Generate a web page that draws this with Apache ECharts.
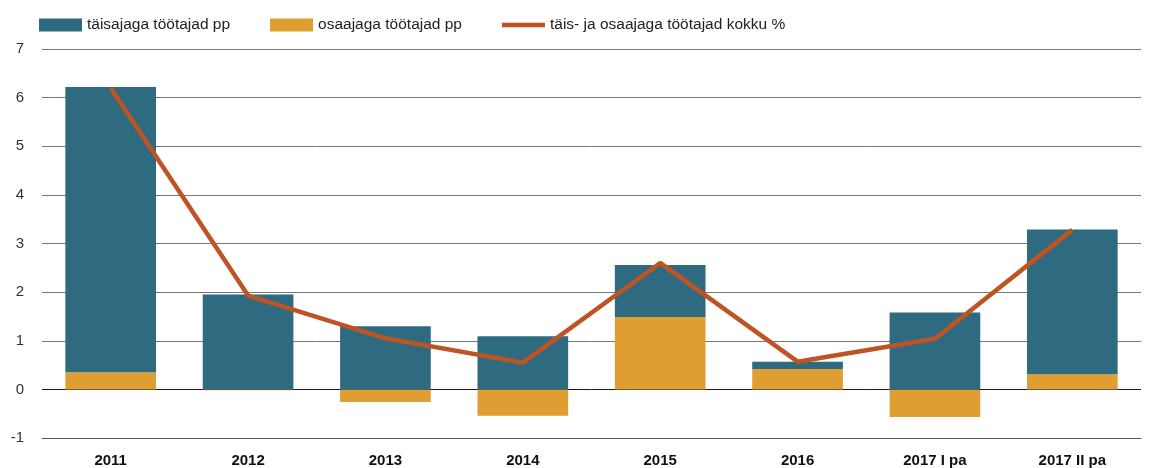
<!DOCTYPE html>
<html>
<head>
<meta charset="utf-8">
<script src="https://cdn.jsdelivr.net/npm/echarts@6/dist/echarts.min.js"></script>
<style>
  html, body { margin: 0; padding: 0; background: #fff; }
  #chart { width: 1149px; height: 468px; }
</style>
</head>
<body>
<div id="chart"></div>
<script>
const categories = ['2011', '2012', '2013', '2014', '2015', '2016', '2017 I pa', '2017 II pa']
// täisajaga (full-time) contribution, pp
const fullTime = [5.87, 1.95, 1.30, 1.09, 1.07, 0.15, 1.58, 2.98]
// osaajaga (part-time) contribution, pp
const partTime = [0.35, -0.02, -0.26, -0.54, 1.49, 0.42, -0.57, 0.31]
// total change, %
const total = [6.2, 1.93, 1.05, 0.55, 2.6, 0.57, 1.04, 3.28]

const names = ['täisajaga töötajad pp', 'osaajaga töötajad pp', 'täis- ja osaajaga töötajad kokku %']
const colors = { full: '#2f6b80', part: '#df9e31', line: '#bf5423' }
const font = 'Liberation Sans, Arial, sans-serif'

const chart = echarts.init(document.getElementById('chart'))
chart.setOption({
    animation: false,
    textStyle: { fontFamily: font },
    grid: { left: 42, right: 8, top: 49, bottom: 30 },
    legend: {
        left: 34,
        top: 12,
        itemWidth: 43,
        itemHeight: 13,
        itemGap: 40,
        textStyle: { fontSize: 15.5, color: '#222', fontFamily: font },
        data: [
            { name: names[0], icon: 'rect' },
            { name: names[1], icon: 'rect' },
            { name: names[2], icon: 'path://M0,0 H40 V4 H0 Z' }
        ]
    },
    xAxis: {
        type: 'category',
        data: categories,
        position: 'bottom',
        axisLine: { onZero: false, lineStyle: { color: '#555', width: 1 } },
        axisTick: { inside: true, length: 5, lineStyle: { color: '#333' } },
        axisLabel: { fontSize: 15, fontWeight: 'bold', color: '#111', margin: 15 }
    },
    yAxis: {
        type: 'value',
        min: -1,
        max: 7,
        interval: 1,
        axisLine: { show: false },
        axisTick: { show: false },
        axisLabel: { fontSize: 15, color: '#333', margin: 18 },
        splitLine: {
            lineStyle: {
                color: ['#777', '#1a1a1a', '#777', '#777', '#777', '#777', '#777', '#777', '#777'],
                width: 1
            }
        }
    },
    series: [
        {
            name: names[1],
            type: 'bar',
            stack: 'emp',
            barWidth: '66%',
            itemStyle: { color: colors.part },
            data: partTime
        },
        {
            name: names[0],
            type: 'bar',
            stack: 'emp',
            barWidth: '66%',
            itemStyle: { color: colors.full },
            data: fullTime
        },
        {
            name: names[2],
            type: 'line',
            symbol: 'none',
            z: 5,
            itemStyle: { color: colors.line },
            lineStyle: { color: colors.line, width: 4.5 },
            data: total
        }
    ]
})
</script>
</body>
</html>
